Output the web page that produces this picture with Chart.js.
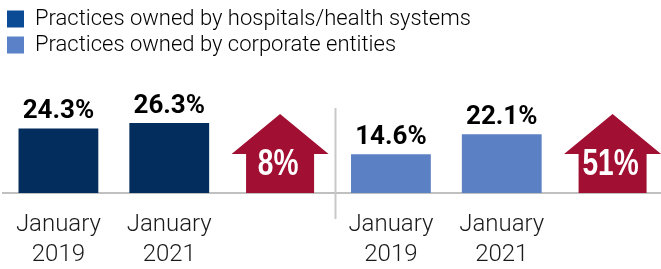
<!DOCTYPE html>
<html>
<head>
<meta charset="utf-8">
<script src="https://cdn.jsdelivr.net/npm/chart.js@4"></script>
<style>
  html, body { margin: 0; padding: 0; background: #fff; overflow: hidden; }
  #wrap { width: 675px; height: 269px; }
</style>
</head>
<body>
<div id="wrap"><canvas id="chart" width="675" height="269"></canvas></div>
<script>
// --- data ---
const categories = [['January', '2019'], ['January', '2021'], '', ['January', '2019'], ['January', '2021'], ''];
const hospitalShares = [24.3, 26.3, null, null, null, null];
const corporateShares = [null, null, null, 14.6, 22.1, null];
const growthLabels = ['8%', '51%'];
const growthSlots = [2, 5];
const seriesNames = ['Practices owned by hospitals/health systems', 'Practices owned by corporate entities'];

const barColors = ['#022d5c', '#5b80c3'];
const legendColors = ['#0b4a94', '#5b82c8'];
const arrowColor = '#a10f33';

// value labels over the bars
const valueLabels = {
  id: 'valueLabels',
  afterDatasetsDraw(chart) {
    const ctx = chart.ctx;
    ctx.save();
    ctx.font = 'bold 26px Roboto, "Liberation Sans", sans-serif';
    ctx.fillStyle = '#000';
    ctx.textAlign = 'center';
    ctx.textBaseline = 'alphabetic';
    chart.data.datasets.forEach((ds, di) => {
      chart.getDatasetMeta(di).data.forEach((bar, i) => {
        const v = ds.data[i];
        if (v == null) return;
        ctx.fillText(v.toFixed(1) + '%', bar.x, bar.y - 10);
      });
    });
    ctx.restore();
  }
};

// growth arrows + divider between the two groups
const growthArrows = {
  id: 'growthArrows',
  afterDatasetsDraw(chart) {
    const ctx = chart.ctx;
    const x = chart.scales.x;
    const y = chart.scales.y;
    const base = y.getPixelForValue(0);
    ctx.save();

    // divider
    const mid = (x.getPixelForValue(2) + x.getPixelForValue(3)) / 2;
    ctx.strokeStyle = '#c8c8c8';
    ctx.lineWidth = 2;
    ctx.beginPath();
    ctx.moveTo(mid, 108);
    ctx.lineTo(mid, base + 26);
    ctx.stroke();

    growthSlots.forEach((slot, k) => {
      const cx = x.getPixelForValue(slot);
      ctx.fillStyle = arrowColor;
      ctx.beginPath();
      ctx.moveTo(cx - 34, base);
      ctx.lineTo(cx - 34, base - 39);
      ctx.lineTo(cx - 48.5, base - 39);
      ctx.lineTo(cx, base - 79);
      ctx.lineTo(cx + 48.5, base - 39);
      ctx.lineTo(cx + 34, base - 39);
      ctx.lineTo(cx + 34, base);
      ctx.closePath();
      ctx.fill();

      // condensed white label
      ctx.save();
      ctx.translate(cx - 2, base - 28);
      ctx.scale(0.78, 1);
      ctx.fillStyle = '#fff';
      ctx.font = 'bold 36px "Liberation Sans", sans-serif';
      ctx.textAlign = 'center';
      ctx.textBaseline = 'middle';
      ctx.fillText(growthLabels[k], 0, 0);
      ctx.restore();
    });
    ctx.restore();
  }
};

new Chart(document.getElementById('chart'), {
  type: 'bar',
  data: {
    labels: categories,
    datasets: [
      { label: seriesNames[0], data: hospitalShares, backgroundColor: barColors[0] },
      { label: seriesNames[1], data: corporateShares, backgroundColor: barColors[1] }
    ]
  },
  options: {
    responsive: false,
    animation: false,
    devicePixelRatio: 1,
    skipNull: true,
    categoryPercentage: 1,
    barPercentage: 0.72,
    layout: { padding: { left: 3, right: 7, top: 4, bottom: 0 } },
    plugins: {
      tooltip: { enabled: false },
      legend: {
        position: 'top',
        align: 'start',
        labels: {
          boxWidth: 17,
          boxHeight: 17,
          padding: 4,
          color: '#1a1a1a',
          font: { family: 'Roboto, "Liberation Sans", sans-serif', size: 22, weight: '300' },
          generateLabels(chart) {
            return chart.data.datasets.map((ds, i) => ({
              text: ds.label,
              fillStyle: legendColors[i],
              strokeStyle: legendColors[i],
              lineWidth: 0,
              datasetIndex: i
            }));
          }
        }
      }
    },
    scales: {
      x: {
        grid: { display: false },
        border: { display: true, color: '#c0c0c0', width: 2 },
        afterFit(scale) { scale.height = 76; },
        ticks: {
          padding: 9,
          color: '#1a1a1a',
          maxRotation: 0,
          autoSkip: false,
          font: { family: 'Roboto, "Liberation Sans", sans-serif', size: 24, weight: '300', lineHeight: 1.25 }
        }
      },
      y: {
        display: false,
        min: 0,
        max: 47.8
      }
    }
  },
  plugins: [valueLabels, growthArrows]
});
</script>
</body>
</html>
